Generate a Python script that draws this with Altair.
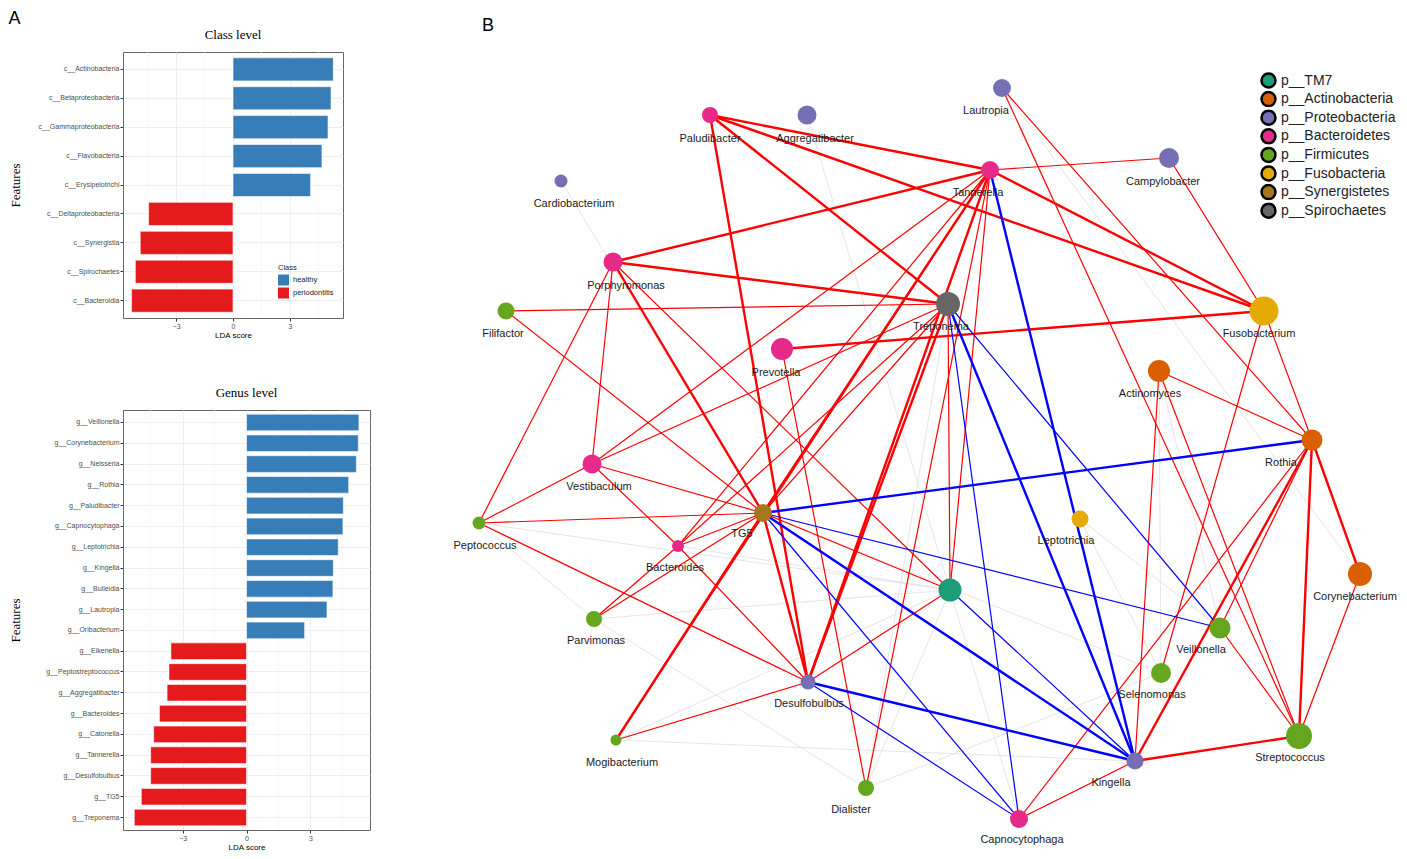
import altair as alt
import pandas as pd

# ---------------- Panel A data ----------------
class_features = ["c__Actinobacteria", "c__Betaproteobacteria", "c__Gammaproteobacteria",
                  "c__Flavobacteria", "c__Erysipelotrichi", "c__Deltaproteobacteria",
                  "c__Synergistia", "c__Spirochaetes", "c__Bacteroidia"]
class_scores = [5.29, 5.17, 5.01, 4.69, 4.09, -4.45, -4.89, -5.15, -5.35]
class_groups = ["healthy"] * 5 + ["periodontitis"] * 4

genus_features = ["g__Veillonella", "g__Corynebacterium", "g__Neisseria", "g__Rothia",
                  "g__Paludibacter", "g__Capnocytophaga", "g__Leptotrichia", "g__Kingella",
                  "g__Bulleidia", "g__Lautropia", "g__Oribacterium", "g__Eikenella",
                  "g__Peptostreptococcus", "g__Aggregatibacter", "g__Bacteroides",
                  "g__Catonella", "g__Tannerella", "g__Desulfobulbus", "g__TG5", "g__Treponema"]
genus_scores = [5.28, 5.25, 5.16, 4.80, 4.55, 4.53, 4.31, 4.08, 4.06, 3.78, 2.73,
                -3.55, -3.64, -3.73, -4.09, -4.36, -4.50, -4.50, -4.94, -5.27]
genus_groups = ["healthy"] * 11 + ["periodontitis"] * 9

class_levels = ["healthy", "periodontitis"]
class_colors = ["#377eb8", "#e41a1c"]
major_ticks = [-3, 0, 3]
minor_grid = [-4.5, -1.5, 1.5, 4.5]

# ---------------- Panel B data ----------------
node_names = ["Paludibacter", "Aggregatibacter", "Lautropia", "Tannerella", "Campylobacter",
              "Cardiobacterium", "Porphyromonas", "Treponema", "Filifactor", "Fusobacterium",
              "Prevotella", "Actinomyces", "Rothia", "Vestibaculum", "TG5", "Peptococcus",
              "Leptotrichia", "Bacteroides", "TM7", "Corynebacterium", "Parvimonas",
              "Veillonella", "Selenomonas", "Desulfobulbus", "Streptococcus", "Mogibacterium",
              "Kingella", "Dialister", "Capnocytophaga"]
node_labels = [n if n != "TM7" else "" for n in node_names]
node_phyla = ["p__Bacteroidetes", "p__Proteobacteria", "p__Proteobacteria", "p__Bacteroidetes",
              "p__Proteobacteria", "p__Proteobacteria", "p__Bacteroidetes", "p__Spirochaetes",
              "p__Firmicutes", "p__Fusobacteria", "p__Bacteroidetes", "p__Actinobacteria",
              "p__Actinobacteria", "p__Bacteroidetes", "p__Synergistetes", "p__Firmicutes",
              "p__Fusobacteria", "p__Bacteroidetes", "p__TM7", "p__Actinobacteria",
              "p__Firmicutes", "p__Firmicutes", "p__Firmicutes", "p__Proteobacteria",
              "p__Firmicutes", "p__Firmicutes", "p__Proteobacteria", "p__Firmicutes",
              "p__Bacteroidetes"]
node_x = [717, 814, 1009, 997, 1176, 568, 620, 955, 513, 1271, 789, 1166, 1319, 599, 770,
          486, 1087, 685, 957, 1367, 601, 1227, 1168, 815, 1306, 623, 1142, 873, 1026]
node_y = [115, 115, 88, 170, 158, 181, 262, 304, 311, 311, 349, 371, 440, 464, 513,
          523, 519, 546, 590, 574, 619, 628, 673, 682, 736, 740, 761, 788, 819]
node_radius = [8, 9.5, 9, 9, 10, 6.5, 9.5, 12, 8.5, 14.5, 11, 11, 10.5, 9.5, 9,
               6.5, 8.5, 6, 11.5, 12, 8, 10.5, 10, 7.5, 13, 5.5, 8.5, 8, 9]
label_x = [717, 822, 993, 985, 1170, 581, 633, 948, 510, 1266, 783, 1157, 1288, 606, 749,
           492, 1073, 682, 957, 1362, 603, 1208, 1159, 816, 1297, 629, 1118, 858, 1029]
label_y = [139, 139, 111, 193, 182, 204, 286, 327, 334, 334, 373, 394, 463, 487, 534,
           546, 541, 568, 590, 597, 641, 650, 695, 704, 758, 763, 783, 810, 840]

phylum_order = ["p__TM7", "p__Actinobacteria", "p__Proteobacteria", "p__Bacteroidetes",
                "p__Firmicutes", "p__Fusobacteria", "p__Synergistetes", "p__Spirochaetes"]
phylum_colors = ["#1b9e77", "#d95f02", "#7570b3", "#e7298a", "#66a61e", "#e6ab02",
                 "#a6761d", "#666666"]

weak_edges = [("Cardiobacterium", "TG5"), ("Aggregatibacter", "TM7"), ("Lautropia", "Corynebacterium"),
              ("Peptococcus", "TM7"), ("Peptococcus", "Parvimonas"), ("Parvimonas", "TM7"),
              ("Parvimonas", "Dialister"), ("Mogibacterium", "TM7"), ("Dialister", "TM7"),
              ("Capnocytophaga", "TM7"), ("Leptotrichia", "Selenomonas"), ("Actinomyces", "Selenomonas"),
              ("Actinomyces", "Veillonella"), ("Bacteroides", "TM7"), ("Dialister", "Selenomonas"),
              ("TG5", "Selenomonas"), ("Treponema", "Dialister"), ("Mogibacterium", "Kingella"),
              ("Leptotrichia", "Veillonella")]
pos_thick_edges = [("Paludibacter", "Tannerella"), ("Paludibacter", "Fusobacterium"),
                   ("Paludibacter", "Treponema"), ("Paludibacter", "Desulfobulbus"),
                   ("Tannerella", "Porphyromonas"), ("Tannerella", "Fusobacterium"),
                   ("Tannerella", "TG5"), ("Tannerella", "Desulfobulbus"),
                   ("Treponema", "Porphyromonas"), ("Treponema", "Desulfobulbus"),
                   ("TG5", "Porphyromonas"), ("TG5", "Desulfobulbus"),
                   ("Prevotella", "Fusobacterium"), ("Rothia", "Streptococcus"),
                   ("Rothia", "Corynebacterium"), ("Rothia", "Kingella"),
                   ("Kingella", "Streptococcus"), ("Mogibacterium", "TG5")]
pos_thin_edges = [("Tannerella", "Campylobacter"), ("Tannerella", "Vestibaculum"),
                  ("Tannerella", "Bacteroides"), ("Tannerella", "TM7"), ("Tannerella", "Dialister"),
                  ("Tannerella", "Mogibacterium"), ("Treponema", "Filifactor"),
                  ("Treponema", "Vestibaculum"), ("Treponema", "Bacteroides"), ("Treponema", "TM7"),
                  ("Treponema", "TG5"), ("Porphyromonas", "Peptococcus"),
                  ("Porphyromonas", "Vestibaculum"), ("Porphyromonas", "TM7"),
                  ("Filifactor", "TG5"), ("Peptococcus", "TG5"), ("Peptococcus", "Desulfobulbus"),
                  ("Peptococcus", "Vestibaculum"), ("Vestibaculum", "TG5"),
                  ("Vestibaculum", "Bacteroides"), ("Bacteroides", "Desulfobulbus"),
                  ("Bacteroides", "TG5"), ("Bacteroides", "Parvimonas"), ("Parvimonas", "TG5"),
                  ("Mogibacterium", "Desulfobulbus"), ("Desulfobulbus", "TM7"), ("TG5", "TM7"),
                  ("Prevotella", "Dialister"), ("Fusobacterium", "Campylobacter"),
                  ("Fusobacterium", "Rothia"), ("Fusobacterium", "Selenomonas"),
                  ("Lautropia", "Rothia"), ("Lautropia", "Streptococcus"),
                  ("Actinomyces", "Rothia"), ("Actinomyces", "Streptococcus"),
                  ("Actinomyces", "Kingella"), ("Corynebacterium", "Streptococcus"),
                  ("Rothia", "Capnocytophaga"), ("Rothia", "Veillonella"),
                  ("Veillonella", "Streptococcus"), ("Kingella", "Capnocytophaga")]
neg_thick_edges = [("TG5", "Rothia"), ("TG5", "Kingella"), ("Tannerella", "Kingella"),
                   ("Treponema", "Kingella"), ("Desulfobulbus", "Kingella")]
neg_thin_edges = [("TG5", "Veillonella"), ("TG5", "Capnocytophaga"),
                  ("Treponema", "Capnocytophaga"), ("Treponema", "Veillonella"),
                  ("Desulfobulbus", "Capnocytophaga"), ("TM7", "Kingella")]

# ---------------- styles ----------------
SANS = "Liberation Sans"
SERIF = "Liberation Serif"


def lda_chart(features, scores, groups, title, w, h, leg_x, leg_y):
    df = pd.DataFrame({"feature": features, "score": scores, "Class": groups})
    xs = alt.Scale(domain=[-5.8, 5.8], nice=False, zero=False)
    ys = alt.Scale(paddingInner=0.2, paddingOuter=0.2)
    minor = alt.Chart(pd.DataFrame({"v": minor_grid})).mark_rule(
        color="#f4f4f4", strokeWidth=0.6
    ).encode(x=alt.X("v:Q", scale=xs))
    bars = alt.Chart(df).mark_bar(stroke="white", strokeWidth=0.6).encode(
        x=alt.X("score:Q", scale=xs,
                axis=alt.Axis(values=major_ticks, title="LDA score", grid=True,
                              gridColor="#ebebeb", gridWidth=0.8, domain=False,
                              tickColor="#333333", tickSize=3, labelFontSize=7,
                              labelColor="#4d4d4d", labelFont=SANS, labelPadding=1,
                              titleFont=SANS, titleFontSize=8, titleFontWeight="normal",
                              titleColor="#000000", titlePadding=2)),
        y=alt.Y("feature:N", sort=features, scale=ys,
                axis=alt.Axis(title="Features", grid=True, gridColor="#ebebeb", gridWidth=0.8,
                              domain=False, tickColor="#333333", tickSize=3,
                              labelFontSize=7, labelColor="#4d4d4d", labelFont=SANS,
                              labelPadding=1, titleFont=SERIF, titleFontSize=13,
                              titleFontWeight="normal", titleColor="#000000",
                              titlePadding=0, minExtent=101, maxExtent=101)),
        color=alt.Color("Class:N",
                        scale=alt.Scale(domain=class_levels, range=class_colors),
                        legend=alt.Legend(orient="none", legendX=leg_x, legendY=leg_y,
                                          symbolType="square", symbolSize=121,
                                          symbolStrokeWidth=0, symbolOpacity=1,
                                          labelFontSize=7.5, labelFont=SANS,
                                          labelColor="#1a1a1a", titleFontSize=7.5,
                                          titleFont=SANS, titleFontWeight="normal",
                                          titleColor="#1a1a1a", rowPadding=2,
                                          titlePadding=3, labelOffset=4)),
    )
    return alt.layer(minor, bars).properties(
        width=w, height=h,
        title=alt.TitleParams(title, font=SERIF, fontSize=13, fontWeight="normal",
                              color="#000000", offset=10),
        view=alt.ViewBackground(stroke="#666666", strokeWidth=1),
    )


class_chart = lda_chart(class_features, class_scores, class_groups, "Class level",
                        220, 266, 155, 212)
genus_chart = lda_chart(genus_features, genus_scores, genus_groups, "Genus level",
                        247, 420, 165, 368)

left = alt.vconcat(class_chart, genus_chart, spacing=46).properties(
    title=alt.TitleParams("A", anchor="start", font=SANS, fontSize=18,
                          fontWeight="normal", color="#000000", offset=0)
)

# ---------------- network ----------------
nodes = pd.DataFrame({
    "name": node_names, "label": node_labels, "phylum": node_phyla,
    "x": node_x, "y": node_y, "lx": label_x, "ly": label_y,
    "size": [(2 * r) ** 2 for r in node_radius],
})
pos = {n: (x, y) for n, x, y in zip(node_names, node_x, node_y)}

edge_groups = [
    (weak_edges, "#dedede", 0.8),
    (pos_thin_edges, "#ff0000", 1.2),
    (pos_thick_edges, "#ff0000", 2.4),
    (neg_thin_edges, "#0000ff", 1.2),
    (neg_thick_edges, "#0000ff", 2.4),
]
rows = []
for order, (elist, col, w) in enumerate(edge_groups):
    for a, b in elist:
        rows.append({"x": pos[a][0], "y": pos[a][1], "x2": pos[b][0], "y2": pos[b][1],
                     "col": col, "w": w, "o": order})
edges = pd.DataFrame(rows).sort_values("o", kind="stable")

nx = alt.Scale(domain=[455, 1400], nice=False, zero=False)
ny = alt.Scale(domain=[52, 850], nice=False, zero=False, reverse=True)

edge_layer = alt.Chart(edges).mark_rule().encode(
    x=alt.X("x:Q", scale=nx, axis=None),
    y=alt.Y("y:Q", scale=ny, axis=None),
    x2="x2:Q", y2="y2:Q",
    stroke=alt.Stroke("col:N", scale=None),
    strokeWidth=alt.StrokeWidth("w:Q", scale=None),
)
node_layer = alt.Chart(nodes).mark_circle(opacity=1).encode(
    x=alt.X("x:Q", scale=nx, axis=None),
    y=alt.Y("y:Q", scale=ny, axis=None),
    size=alt.Size("size:Q", scale=None),
    color=alt.Color("phylum:N", scale=alt.Scale(domain=phylum_order, range=phylum_colors),
                    legend=alt.Legend(title=None, orient="none", legendX=812, legendY=20,
                                      symbolType="circle", symbolSize=196,
                                      symbolStrokeColor="#000000", symbolStrokeWidth=2.5,
                                      symbolOpacity=1, labelFontSize=14, labelFont=SANS,
                                      labelColor="#222222", rowPadding=1.6, clipHeight=17,
                                      labelOffset=4)),
)
label_layer = alt.Chart(nodes).mark_text(font=SANS, fontSize=11, color="#1a1a1a",
                                         baseline="middle", align="center").encode(
    x=alt.X("lx:Q", scale=nx, axis=None),
    y=alt.Y("ly:Q", scale=ny, axis=None),
    text="label:N",
)

network = alt.layer(edge_layer, node_layer, label_layer).properties(
    width=945, height=798,
    title=alt.TitleParams("B", anchor="start", font=SANS, fontSize=18,
                          fontWeight="normal", color="#000000", offset=17, dx=34),
    view=alt.ViewBackground(stroke="transparent"),
)

chart = alt.hconcat(left, network, spacing=76).resolve_scale(color="independent").properties(
    padding={"top": 2, "left": 0, "right": 0, "bottom": 0}
).configure(background="white")

chart.save("out.html", embed_options={"renderer": "svg", "actions": False})
